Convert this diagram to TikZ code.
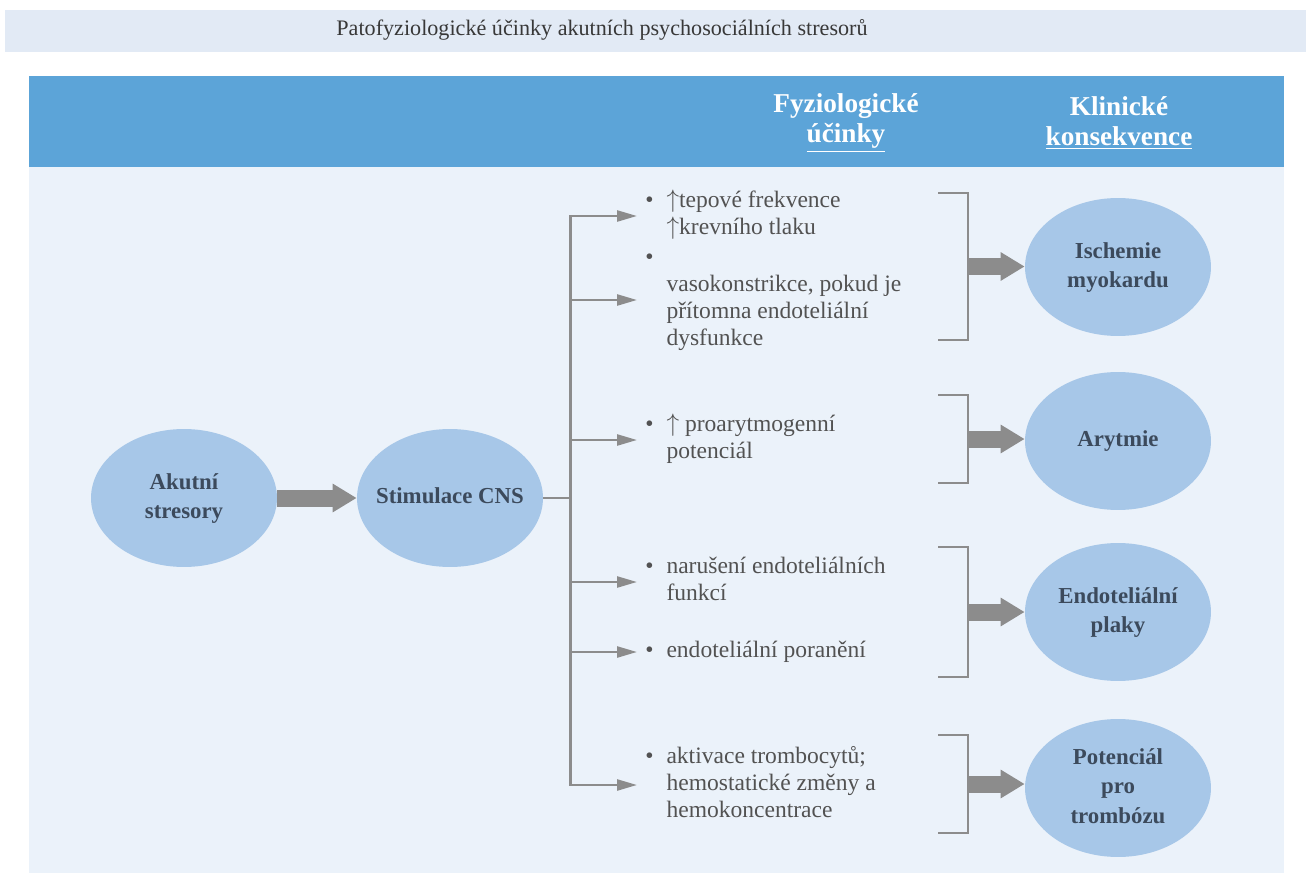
\documentclass[tikz,border=0pt]{standalone}
\usepackage{fontspec}
\setmainfont{Liberation Serif}
\usepackage{xcolor}
\usepackage{tikz}
\usetikzlibrary{arrows.meta, calc, shapes.geometric}
\definecolor{titleband}{RGB}{226,234,245}
\definecolor{headblue}{RGB}{92,164,216}
\definecolor{panelblue}{RGB}{235,242,250}
\definecolor{ovalblue}{RGB}{167,199,232}
\definecolor{ovaltext}{RGB}{60,74,92}
\definecolor{itemgray}{RGB}{82,82,82}
\definecolor{linegray}{RGB}{140,140,140}
\newcommand{\ovaltxt}[1]{\makebox[0pt]{\begin{tabular}{@{}c@{}}#1\end{tabular}}}
\newcommand{\itemtxt}[1]{\begin{tabular}{@{}p{0.9em}@{}l@{}}#1\end{tabular}}

\begin{document}
\begin{tikzpicture}[x=0.02cm, y=-0.02cm, >=Stealth,
  oval/.style={ellipse, fill=ovalblue, minimum width=3.72cm, minimum height=2.76cm, inner sep=0pt, text=ovaltext, font=\fontsize{13}{17}\selectfont\bfseries},
  effect/.style={anchor=west, inner xsep=0.16cm, inner ysep=0pt, text=itemgray, font=\fontsize{13.4}{15.4}\selectfont},
  branch/.style={draw=linegray, line width=1.4pt},
  thin arrow/.style={branch, -{Triangle[length=4mm, width=2.2mm]}},
  fat arrow/.style={draw=linegray, line width=0.34cm, -{Triangle[length=4.8mm, width=5.4mm]}},
  bracket/.style={draw=linegray, line width=1.6pt}]
\fill[white] (0,0) rectangle (1309,875);
\useasboundingbox (0,0) rectangle (1309,875);
\fill[titleband] (5,10) rectangle (1306,52);
\fill[headblue] (29,76) rectangle (1284,167);
\fill[panelblue] (29,167) rectangle (1284,873);

\node[text=black!78, font=\fontsize{12.6}{14}\selectfont] (title) at (602,30) {Patofyziologické účinky akutních psychosociálních stresorů};
\node[text=white, font=\fontsize{15.5}{17}\selectfont\bfseries, align=center] (hfyz) at (846,123) {Fyziologické\\\underline{účinky}};
\node[text=white, font=\fontsize{15.5}{17}\selectfont\bfseries, align=center] (hklin) at (1119,123) {Klinické\\\underline{konsekvence}};

\node[oval] (akut) at (184,498) {\ovaltxt{Akutní\\stresory}};
\node[oval] (stim) at (450,498) {\ovaltxt{Stimulace CNS}};
\node[oval] (isch) at (1118,267) {\ovaltxt{Ischemie\\myokardu}};
\node[oval] (aryt) at (1118,441) {\ovaltxt{Arytmie}};
\node[oval] (endo) at (1118,612) {\ovaltxt{Endoteliální\\plaky}};
\node[oval] (trom) at (1118,788) {\ovaltxt{Potenciál\\pro\\trombózu}};

\node[effect] (e1) at (637,216) {\itemtxt{\textbullet & $\uparrow$tepové frekvence\\ & $\uparrow$krevního tlaku}};
\node[effect] (e2) at (637,300) {\itemtxt{\textbullet & \\ & vasokonstrikce, pokud je\\ & přítomna endoteliální\\ & dysfunkce}};
\node[effect] (e3) at (637,440) {\itemtxt{\textbullet & $\uparrow$ proarytmogenní\\ & potenciál}};
\node[effect] (e4) at (637,582) {\itemtxt{\textbullet & narušení endoteliálních\\ & funkcí}};
\node[effect] (e5) at (637,652) {\itemtxt{\textbullet & endoteliální poranění}};
\node[effect] (e6) at (637,785) {\itemtxt{\textbullet & aktivace trombocytů;\\ & hemostatické změny a\\ & hemokoncentrace}};

\draw[fat arrow] (akut.east) -- (stim.west);
\coordinate (hub) at ($(stim.east)+(27,0)$);
\draw[branch] (stim.east) -- (hub);
\draw[branch, line cap=rect] (hub |- e1.west) -- (hub |- e6.west);
\foreach \i in {1,...,6}
  \draw[thin arrow] (hub |- e\i.west) -- (e\i.west);

\foreach \ya/\yb/\i in {193/340/1, 395/483/2, 547/677/3, 735/833/4}{
  \draw[bracket] (938,\ya) -| (968,\yb) -- (938,\yb);
  \coordinate (b\i) at (968,{(\ya+\yb)/2}); }
\foreach \i/\c in {1/isch, 2/aryt, 3/endo, 4/trom}
  \draw[fat arrow] (b\i) -- (b\i -| \c.west);
\end{tikzpicture}
\end{document}
